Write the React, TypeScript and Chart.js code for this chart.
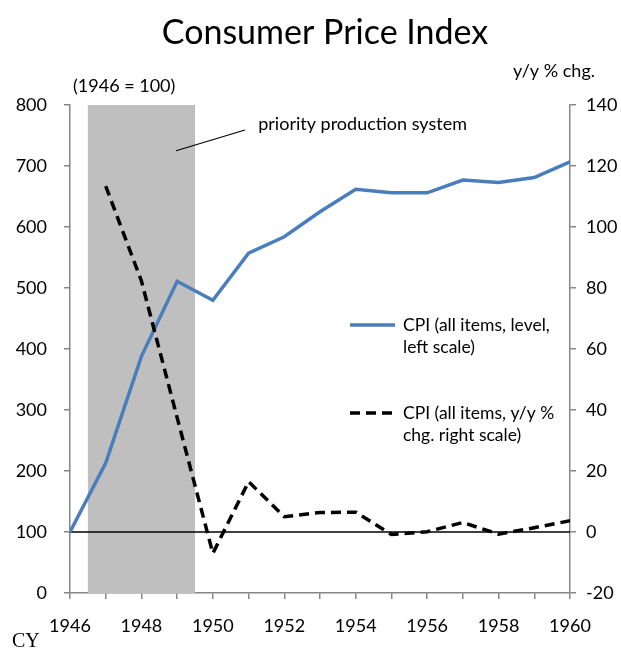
import React, { useEffect, useRef } from "react";
import { Chart, registerables } from "chart.js";

Chart.register(...registerables);

const years = [1946, 1947, 1948, 1949, 1950, 1951, 1952, 1953, 1954, 1955, 1956, 1957, 1958, 1959, 1960];
const cpiLevel = [100, 213, 388, 511, 480, 557, 584, 625, 662, 656, 656, 677, 673, 681, 707];
const cpiYoY = [null, 113.4, 82.3, 37.5, -7.0, 16.5, 5.0, 6.4, 6.5, -0.8, 0.1, 3.1, -0.7, 1.4, 3.7];
const shadeRange = [1946.5, 1949.5];
const baseLevel = 100;
const titleText = "Consumer Price Index";
const leftUnit = "(1946 = 100)";
const rightUnit = "y/y % chg.";
const xAxisName = "CY";
const annotationText = "priority production system";
const legendLevel = ["CPI (all items, level,", "left scale)"];
const legendYoY = ["CPI (all items, y/y %", "chg. right scale)"];

const FONT = "Lato";
const BLUE = "#4A7EBB";
const AXIS = "#868686";

export default function App() {
  const ref = useRef<HTMLCanvasElement>(null);

  useEffect(() => {
    const canvas = ref.current!;
    const deco = {
      id: "deco",
      beforeDatasetsDraw(chart: any) {
        const { ctx, chartArea, scales } = chart;
        const x = scales.x;
        const y = scales.y;
        ctx.save();
        ctx.fillStyle = "#BFBFBF";
        const x0 = x.getPixelForValue(shadeRange[0]);
        const x1 = x.getPixelForValue(shadeRange[1]);
        ctx.fillRect(x0, chartArea.top, x1 - x0, chartArea.bottom - chartArea.top);
        ctx.strokeStyle = "#000";
        ctx.lineWidth = 1.3;
        const yb = y.getPixelForValue(baseLevel);
        ctx.beginPath();
        ctx.moveTo(chartArea.left, yb);
        ctx.lineTo(chartArea.right, yb);
        ctx.stroke();
        ctx.restore();
      },
      afterDraw(chart: any) {
        const { ctx, scales } = chart;
        const x = scales.x;
        const y = scales.y;
        ctx.save();
        ctx.fillStyle = "#000";
        ctx.textBaseline = "middle";
        // title
        ctx.font = `34px ${FONT}`;
        ctx.textAlign = "center";
        ctx.fillText(titleText, 325, 33);
        // units
        ctx.font = `18px ${FONT}`;
        ctx.textAlign = "left";
        ctx.fillText(leftUnit, 73, 86);
        ctx.textAlign = "right";
        ctx.fillText(rightUnit, 595, 71);
        // annotation
        ctx.strokeStyle = "#000";
        ctx.lineWidth = 1.2;
        ctx.beginPath();
        ctx.moveTo(x.getPixelForValue(1948.97), y.getPixelForValue(725));
        ctx.lineTo(x.getPixelForValue(1950.9), y.getPixelForValue(759));
        ctx.stroke();
        ctx.textAlign = "left";
        ctx.fillText(annotationText, x.getPixelForValue(1951.27), y.getPixelForValue(769));
        // legend
        const lx0 = 350, lx1 = 395, tx = 403;
        ctx.lineWidth = 3.5;
        ctx.strokeStyle = BLUE;
        ctx.beginPath();
        ctx.moveTo(lx0, 325);
        ctx.lineTo(lx1, 325);
        ctx.stroke();
        ctx.strokeStyle = "#000";
        ctx.setLineDash([10, 6]);
        ctx.beginPath();
        ctx.moveTo(lx0, 413);
        ctx.lineTo(lx1, 413);
        ctx.stroke();
        ctx.setLineDash([]);
        ctx.font = `17.5px ${FONT}`;
        ctx.fillText(legendLevel[0], tx, 325);
        ctx.fillText(legendLevel[1], tx, 347);
        ctx.fillText(legendYoY[0], tx, 413);
        ctx.fillText(legendYoY[1], tx, 435);
        // CY
        ctx.font = `20px "Liberation Serif"`;
        ctx.fillText(xAxisName, 12, 642);
        ctx.restore();
      },
    };

    const tickFont = { family: FONT, size: 18 };
    const chart = new Chart(canvas, {
      type: "line",
      data: {
        datasets: [
          {
            label: "CPI (all items, y/y % chg. right scale)",
            data: years.map((yr, i) => ({ x: yr, y: cpiYoY[i] as any })),
            yAxisID: "y1",
            borderColor: "#000",
            borderWidth: 3.5,
            borderDash: [10, 6],
            pointRadius: 0,
            tension: 0,
            order: 0,
          },
          {
            label: "CPI (all items, level, left scale)",
            data: years.map((yr, i) => ({ x: yr, y: cpiLevel[i] })),
            yAxisID: "y",
            borderColor: BLUE,
            borderWidth: 3.5,
            pointRadius: 0,
            tension: 0,
            order: 1,
          },
        ],
      },
      options: {
        animation: false,
        responsive: false,
        devicePixelRatio: 1,
        layout: { padding: { top: 105, left: 0, right: 0, bottom: 0 } },
        plugins: { legend: { display: false }, tooltip: { enabled: false }, title: { display: false } },
        scales: {
          x: {
            type: "linear",
            min: 1946,
            max: 1960,
            ticks: {
              stepSize: 1,
              autoSkip: false,
              maxRotation: 0,
              color: "#000",
              font: tickFont,
              padding: 16,
              callback: (v: any) => (Number(v) % 2 === 0 ? String(v) : ""),
            },
            grid: { drawOnChartArea: false, drawTicks: true, tickLength: 6, color: AXIS, lineWidth: 1.5 },
            border: { color: AXIS, width: 1.5 },
            afterFit: (s: any) => { s.height = 55; },
          },
          y: {
            position: "left",
            min: 0,
            max: 800,
            ticks: { stepSize: 100, color: "#000", font: tickFont, padding: 17 },
            grid: { drawOnChartArea: false, drawTicks: true, tickLength: 6, color: AXIS, lineWidth: 1.5 },
            border: { color: AXIS, width: 1.5 },
            afterFit: (s: any) => { s.width = 70; },
          },
          y1: {
            position: "right",
            min: -20,
            max: 140,
            ticks: { stepSize: 20, color: "#000", font: tickFont, padding: 10 },
            grid: { drawOnChartArea: false, drawTicks: true, tickLength: 6, color: AXIS, lineWidth: 1.5 },
            border: { color: AXIS, width: 1.5 },
            afterFit: (s: any) => { s.width = 51; },
          },
        },
      },
      plugins: [deco],
    });
    return () => chart.destroy();
  }, []);

  return (
    <div style={{ position: "fixed", left: 0, top: 0, width: 621, height: 648, background: "#fff" }}>
      <canvas ref={ref} width={621} height={648} />
    </div>
  );
}
